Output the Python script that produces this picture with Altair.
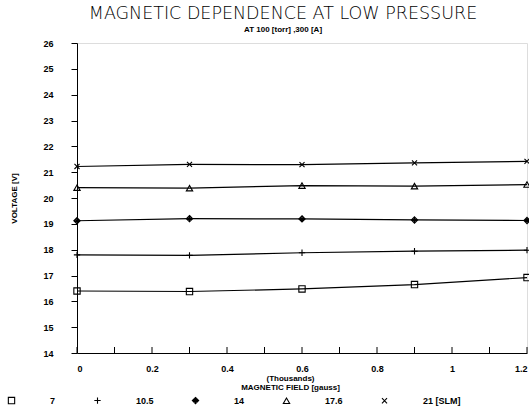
import altair as alt
import pandas as pd

field_k = [0, 0.3, 0.6, 0.9, 1.2]
series_names = ["7", "10.5", "14", "17.6", "21 [SLM]"]
v_7 = [16.40, 16.38, 16.48, 16.65, 16.92]
v_10_5 = [17.80, 17.78, 17.88, 17.94, 17.98]
v_14 = [19.12, 19.20, 19.19, 19.15, 19.13]
v_17_6 = [20.40, 20.38, 20.48, 20.46, 20.52]
v_21 = [21.22, 21.30, 21.29, 21.36, 21.42]
y_ticks = list(range(14, 27))
x_labels = [0, 0.2, 0.4, 0.6, 0.8, 1.0, 1.2]
x_minor = [0, 0.1, 0.2, 0.3, 0.4, 0.5, 0.6, 0.7, 0.8, 0.9, 1.0, 1.1, 1.2]

rows = []
for name, vals in zip(series_names, [v_7, v_10_5, v_14, v_17_6, v_21]):
    for x, v in zip(field_k, vals):
        rows.append({"field": x, "voltage": v, "flow": name})
df = pd.DataFrame(rows)
ticks_df = pd.DataFrame({"field": x_minor})

filled_diamond = ("M0,-1L1,0L0,1L-1,0ZM0,-1L0,1M-1,0L1,0"
                  "M-0.5,-0.5L0.5,0.5M-0.5,0.5L0.5,-0.5")
shapes = ["square", "M-1,0L1,0M0,-1L0,1", filled_diamond, "triangle-up",
          "M-0.8,-0.8L0.8,0.8M-0.8,0.8L0.8,-0.8"]

lab_font = "Liberation Sans"

legend = alt.Legend(orient="none", legendX=-70, legendY=353, direction="horizontal",
                    columns=5, labelOffset=34, columnPadding=36, symbolSize=40,
                    symbolStrokeColor="black", symbolFillColor="transparent",
                    symbolStrokeWidth=1.1,
                    labelFont=lab_font, labelFontSize=9, labelFontWeight="bold",
                    labelColor="black", padding=0, title=None)

x_axis = alt.Axis(values=x_labels, format="~g", ticks=False, grid=False,
                  domainColor="black", labelFont=lab_font, labelFontSize=9,
                  labelFontWeight="bold", labelColor="black", labelPadding=11,
                  title=["(Thousands)", "MAGNETIC FIELD [gauss]"],
                  titleFont=lab_font, titleFontSize=8, titleFontWeight="bold",
                  titleColor="black", titlePadding=1, titleX=213,
                  titleLineHeight=9)
x_enc = alt.X("field:Q", scale=alt.Scale(domain=[0, 1.2], nice=False), axis=x_axis)
y_enc = alt.Y("voltage:Q", scale=alt.Scale(domain=[14, 26], nice=False),
              axis=alt.Axis(values=y_ticks, grid=False, domainColor="black",
                            tickColor="black", tickSize=6, labelPadding=18,
                            labelOverlap=False, tickCount=13,
                            labelFont=lab_font, labelFontSize=9, labelFontWeight="bold",
                            labelColor="black", title="VOLTAGE [V]", titleFont=lab_font,
                            titleFontSize=8, titleFontWeight="bold", titleColor="black",
                            titlePadding=24))

base = alt.Chart(df)
lines = base.mark_line(color="black", strokeWidth=1.2).encode(
    x=x_enc, y=y_enc, detail="flow:N")
points = base.mark_point(filled=False, stroke="black", strokeWidth=1.1, size=40, opacity=1).encode(
    x=x_enc, y=y_enc,
    shape=alt.Shape("flow:N", sort=series_names,
                    scale=alt.Scale(domain=series_names, range=shapes), legend=legend),
)
minor = alt.Chart(ticks_df).mark_rule(color="black", strokeWidth=1).encode(
    x=x_enc, y=alt.value(304), y2=alt.value(310))

chart = alt.layer(lines, points, minor).properties(
    width=450, height=310,
    autosize=alt.AutoSizeParams(type="none"),
    padding={"left": 77, "top": 43, "right": 2, "bottom": 59},
    title=alt.TitleParams(text="MAGNETIC DEPENDENCE AT LOW PRESSURE",
                          subtitle="AT 100 [torr] ,300 [A]",
                          font="DejaVu Sans", fontSize=17.5, fontWeight=300,
                          color="black", subtitleFont=lab_font, subtitleFontSize=8,
                          subtitleFontWeight="bold", subtitleColor="black",
                          anchor="middle", dx=-19, offset=5, subtitlePadding=4),
).configure_view(stroke="black", strokeWidth=1).configure(background="white")

chart.save("out.html", embed_options={"renderer": "svg", "actions": False})
